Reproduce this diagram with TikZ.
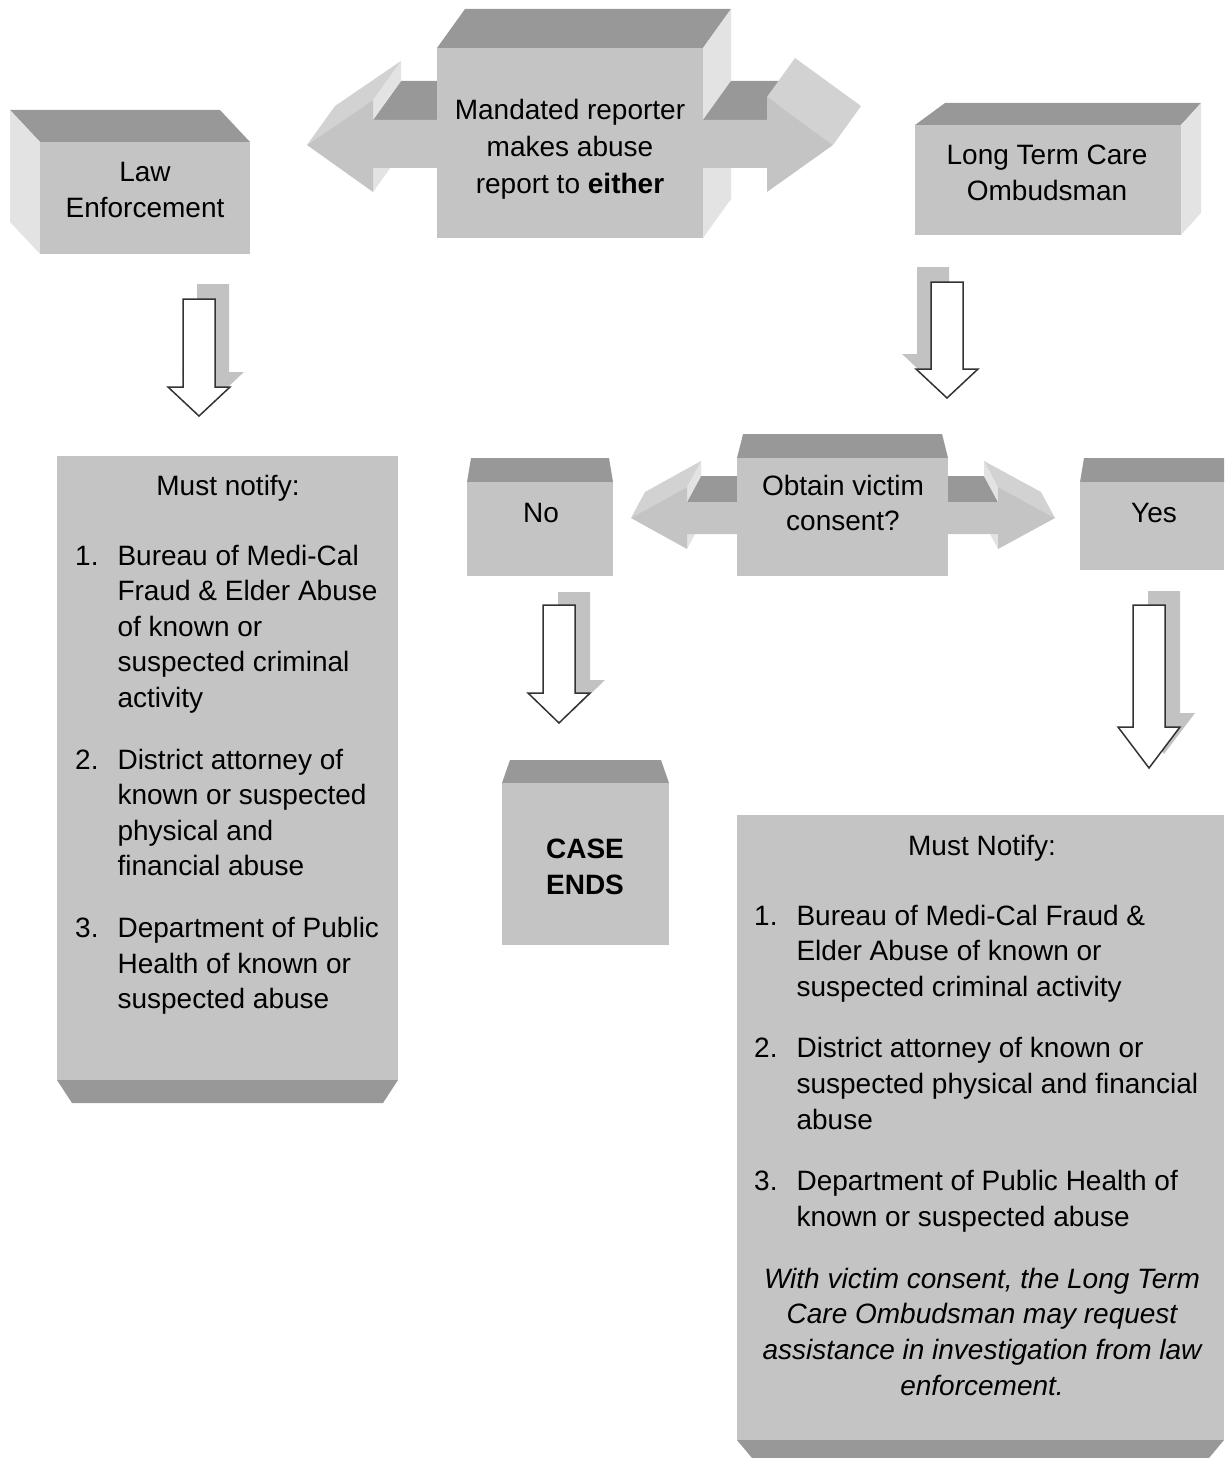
\documentclass[tikz,border=0pt]{standalone}
\usepackage{fontspec}
\setmainfont{Liberation Sans}

\definecolor{facegray}{HTML}{C4C4C4}
\definecolor{topgray}{HTML}{989898}
\definecolor{sidegray}{HTML}{E3E3E3}
\definecolor{slantgray}{HTML}{D2D2D2}
\definecolor{shadowgray}{HTML}{C2C2C2}

\newcommand{\boxfont}{\fontsize{28}{35.6}\selectfont}

\tikzset{
  front/.style={fill=facegray},
  topface/.style={fill=topgray},
  sideface/.style={fill=sidegray},
  slantface/.style={fill=slantgray},
  boxtext/.style={inner sep=0pt, anchor=base, font=\boxfont},
  listtext/.style={inner sep=0pt, anchor=base west, font=\boxfont},
  hollowline/.style={draw=black!80, line width=1.5pt, fill=white, line join=miter}
}

% #1 x of shaft, #2 top, #3 shoulder, #4 tip, #5 shadow shift
\newcommand{\hollowdown}[5]{
  \fill[shadowgray, shift={#5}] (#1-16,#2) -- (#1+16,#2) -- (#1+16,#3) -- (#1+31,#3)
    -- (#1,#4) -- (#1-31,#3) -- (#1-16,#3) -- cycle;
  \draw[hollowline] (#1-16,#2) -- (#1+16,#2) -- (#1+16,#3) -- (#1+31,#3)
    -- (#1,#4) -- (#1-31,#3) -- (#1-16,#3) -- cycle;
}

\begin{document}
\begin{tikzpicture}[x=1pt, y=-1pt]
    \useasboundingbox (0,0) rectangle (1224,1458);

    % law enforcement box
    \fill[topface] (10,110) -- (220,110) -- (250,142) -- (40,142) -- cycle;
    \fill[sideface] (10,110) -- (40,142) -- (40,254) -- (10,222) -- cycle;
    \fill[front] (40,142) rectangle (250,254);

    % reporter box with its two arrows
    \fill[sideface] (373,168) -- (373,192) -- (401,153) -- (401,129) -- cycle;
    \fill[topface] (373,120) -- (437,120) -- (465,81) -- (401,81) -- cycle;
    \fill[sideface] (373,100) -- (373,120) -- (401,81) -- (401,61) -- cycle;
    \fill[slantface] (307,145) -- (373,100) -- (401,61) -- (335,106) -- cycle;
    \fill[front] (307,145) -- (373,100) -- (373,120) -- (437,120) -- (437,168)
        -- (373,168) -- (373,192) -- cycle;

    \fill[topface] (437,48) -- (703,48) -- (731,9) -- (465,9) -- cycle;
    \fill[sideface] (703,48) -- (731,9) -- (731,199) -- (703,238) -- cycle;
    \fill[front] (437,48) rectangle (703,238);

    \fill[topface] (703,120) -- (767,120) -- (795,81) -- (731,81) -- cycle;
    \fill[slantface] (767,97) -- (833,145) -- (861,106) -- (795,58) -- cycle;
    \fill[front] (703,120) -- (767,120) -- (767,97) -- (833,145) -- (767,192)
        -- (767,168) -- (703,168) -- cycle;

    % ombudsman box
    \fill[topface] (915,125) -- (1181,125) -- (1201,103) -- (945,103) -- cycle;
    \fill[sideface] (1181,125) -- (1201,103) -- (1201,213) -- (1181,235) -- cycle;
    \fill[front] (915,125) rectangle (1181,235);

    % consent box with its two arrows
    \fill[sideface] (687,534) -- (687,549) -- (701,523) -- (701,508) -- cycle;
    \fill[topface] (687,502) -- (737,502) -- (751,476) -- (701,476) -- cycle;
    \fill[sideface] (687,487) -- (687,502) -- (701,476) -- (701,461) -- cycle;
    \fill[slantface] (631,518) -- (687,487) -- (701,461) -- (645,492) -- cycle;
    \fill[front] (631,518) -- (687,487) -- (687,502) -- (737,502) -- (737,534)
        -- (687,534) -- (687,549) -- cycle;

    \fill[sideface] (998,534) -- (998,549) -- (984,523) -- (984,508) -- cycle;
    \fill[topface] (948,502) -- (998,502) -- (984,476) -- (934,476) -- cycle;
    \fill[sideface] (998,487) -- (998,502) -- (984,476) -- (984,461) -- cycle;
    \fill[slantface] (998,487) -- (1055,518) -- (1041,492) -- (984,461) -- cycle;
    \fill[front] (1055,518) -- (998,487) -- (998,502) -- (948,502) -- (948,534)
        -- (998,534) -- (998,549) -- cycle;

    \fill[topface] (737,458) -- (948,458) -- (942,434) -- (743,434) -- cycle;
    \fill[front] (737,458) rectangle (948,576);

    \fill[topface] (467,482) -- (613,482) -- (609,458) -- (471,458) -- cycle;
    \fill[front] (467,482) rectangle (613,576);

    \fill[topface] (1080,482) -- (1224,482) -- (1224,458) -- (1084,458) -- cycle;
    \fill[front] (1080,482) rectangle (1224,570);

    \fill[topface] (502,783) -- (669,783) -- (661,760) -- (510,760) -- cycle;
    \fill[front] (502,783) rectangle (669,945);

    % notify boxes
    \fill[front] (57,456) rectangle (398,1080);
    \fill[topface] (57,1080) -- (398,1080) -- (383,1103) -- (72,1103) -- cycle;

    \fill[front] (737,815) rectangle (1224,1440);
    \fill[topface] (737,1440) -- (1224,1440) -- (1209,1458) -- (752,1458) -- cycle;

    % hollow arrows
    \hollowdown{199}{299}{387}{416}{(14,-15)}
    \hollowdown{947}{282}{369}{398}{(-14,-15)}
    \hollowdown{559}{605}{693}{723}{(15,-13)}
    \hollowdown{1149}{605}{727}{768}{(15,-14)}

    % texts
    \node[boxtext] (law) at (145,182)
        {\begin{tabular}[t]{@{}c@{}}Law\\ Enforcement\end{tabular}};
    \node[boxtext] (reporter) at (570,120)
        {\begin{tabular}[t]{@{}c@{}}Mandated reporter\\[1pt] makes abuse\\[1pt] report to \textbf{either}\end{tabular}};
    \node[boxtext] (ombudsman) at (1047,165)
        {\begin{tabular}[t]{@{}c@{}}Long Term Care\\ Ombudsman\end{tabular}};
    \node[boxtext] (consent) at (843,495)
        {\begin{tabular}[t]{@{}c@{}}Obtain victim\\ consent?\end{tabular}};
    \node[boxtext] (no) at (541,522) {No};
    \node[boxtext] (yes) at (1154,522) {Yes};
    \node[boxtext, font=\boxfont\bfseries] (caseends) at (585,858)
        {\begin{tabular}[t]{@{}c@{}}CASE\\[1pt] ENDS\end{tabular}};

    \node[boxtext] (lawhead) at (228,495) {Must notify:};
    \node[listtext] (lawlist) at (75,565)
        {\begin{tabular}[t]{@{}r@{\hspace{19pt}}l@{}}
        1. & Bureau of Medi-Cal\\
           & Fraud \& Elder Abuse\\
           & of known or\\
           & suspected criminal\\
           & activity\\[26pt]
        2. & District attorney of\\
           & known or suspected\\
           & physical and\\
           & financial abuse\\[26pt]
        3. & Department of Public\\
           & Health of known or\\
           & suspected abuse
        \end{tabular}};

    \node[boxtext] (ltchead) at (982,855) {Must Notify:};
    \node[listtext] (ltclist) at (754,925)
        {\begin{tabular}[t]{@{}r@{\hspace{19pt}}l@{}}
        1. & Bureau of Medi-Cal Fraud \&\\
           & Elder Abuse of known or\\
           & suspected criminal activity\\[26pt]
        2. & District attorney of known or\\
           & suspected physical and financial\\
           & abuse\\[26pt]
        3. & Department of Public Health of\\
           & known or suspected abuse
        \end{tabular}};
    \node[boxtext, font=\boxfont\itshape] (note) at (982,1288)
        {\begin{tabular}[t]{@{}c@{}}With victim consent, the Long Term\\
        Care Ombudsman may request\\
        assistance in investigation from law\\[1pt]
        enforcement.\end{tabular}};
\end{tikzpicture}
\end{document}
